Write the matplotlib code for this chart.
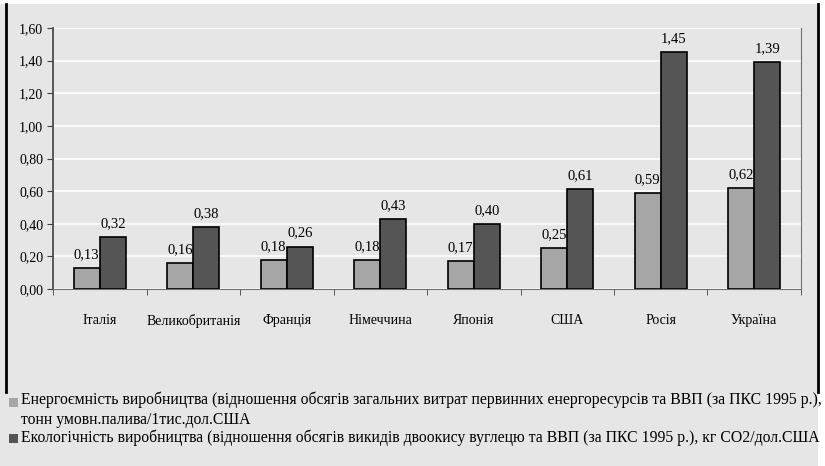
import numpy as np
import matplotlib.pyplot as plt
from matplotlib.lines import Line2D
from matplotlib.patches import Rectangle
from matplotlib.ticker import FuncFormatter

plt.rcParams['font.family'] = ['Liberation Serif', 'DejaVu Serif']

countries = ["Італія", "Великобританія", "Франція", "Німеччина",
             "Японія", "США", "Росія", "Україна"]
energy = [0.13, 0.16, 0.18, 0.18, 0.17, 0.25, 0.59, 0.62]
ecology = [0.32, 0.38, 0.26, 0.43, 0.40, 0.61, 1.45, 1.39]

energy_label = ("Енергоємність виробництва (відношення обсягів загальних витрат "
                "первинних енергоресурсів та ВВП (за ПКС 1995 р.),\n"
                "тонн умовн.палива/1тис.дол.США")
ecology_label = ("Екологічність виробництва (відношення обсягів викидів двоокису "
                 "вуглецю та ВВП (за ПКС 1995 р.), кг СО2/дол.США")

bg = "#e6e6e6"
light = "#a6a6a6"
dark = "#555555"

W, H = 825, 466
fig = plt.figure(figsize=(W / 100, H / 100), dpi=100, facecolor="white")

# gray panel with the two black side rules
fig.add_artist(Rectangle((0, 0), 818 / W, 1 - 4 / H, transform=fig.transFigure,
                         facecolor=bg, edgecolor="none", zorder=-10))
fig.add_artist(Line2D([5.5 / W, 5.5 / W], [1 - 392 / H, 1 - 4 / H],
                      transform=fig.transFigure, color="black", lw=2))
fig.add_artist(Line2D([818 / W, 818 / W], [1 - 392 / H, 1 - 4 / H],
                      transform=fig.transFigure, color="black", lw=2))

ax = fig.add_axes([53 / W, 1 - 289 / H, (801 - 53) / W, (289 - 28) / H])
ax.set_facecolor(bg)

x = np.arange(len(countries))
w = 0.28
b1 = ax.bar(x - w / 2, energy, w, color=light, edgecolor="black", linewidth=1.2, zorder=3)
b2 = ax.bar(x + w / 2, ecology, w, color=dark, edgecolor="black", linewidth=1.2, zorder=3)

for bars, vals in ((b1, energy), (b2, ecology)):
    for rect, v in zip(bars, vals):
        ax.annotate(f"{v:.2f}".replace(".", ","),
                    (rect.get_x() + rect.get_width() / 2, v),
                    xytext=(0, 5), textcoords="offset points",
                    ha="center", va="bottom", fontsize=10.5)

ax.set_xlim(-0.5, len(countries) - 0.5)
ax.set_ylim(0, 1.6)
ax.set_yticks(np.arange(0, 1.61, 0.2))
ax.yaxis.set_major_formatter(FuncFormatter(lambda v, p: f"{v:.2f}".replace(".", ",")))
ax.yaxis.grid(True, color="white", lw=1.2, zorder=0)

ax.set_xticks(x)
ax.set_xticklabels(countries)
ax.set_xticks(np.arange(-0.5, len(countries)), minor=True)
ax.tick_params(axis="x", which="major", length=0, pad=18, labelsize=10)
ax.tick_params(axis="x", which="minor", length=4, color="#404040", direction="out")
ax.tick_params(axis="y", length=4, color="#404040", labelsize=10, pad=3)

for side in ("left", "bottom", "right"):
    ax.spines[side].set_color("#707070")
ax.spines["left"].set_color("#404040")
ax.spines["left"].set_linewidth(1.2)
ax.spines["top"].set_visible(False)

# legend entries below the chart
fig.add_artist(Rectangle((9 / W, 1 - 407 / H), 9 / W, 9 / H, transform=fig.transFigure,
                         facecolor=light, edgecolor="none"))
fig.add_artist(Rectangle((9 / W, 1 - 443 / H), 9 / W, 9 / H, transform=fig.transFigure,
                         facecolor=dark, edgecolor="none"))
fig.text(21 / W, 1 - 392 / H, energy_label, fontsize=11.3, va="top", ha="left",
         linespacing=1.3)
fig.text(21 / W, 1 - 430 / H, ecology_label, fontsize=11.3, va="top", ha="left")

fig.savefig("out.png", dpi=100, facecolor="white")
